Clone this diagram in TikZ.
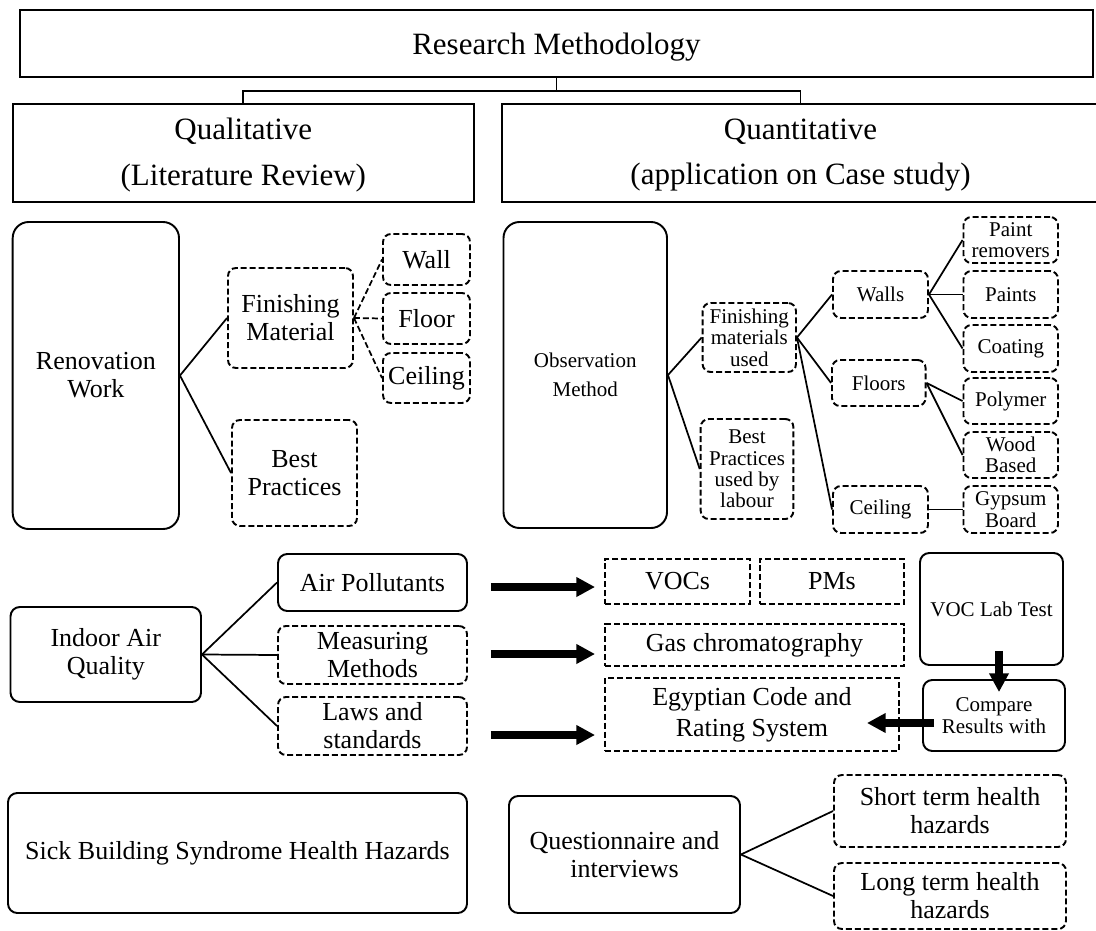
\documentclass[tikz,border=0pt]{standalone}
\usepackage{fontspec}
\setmainfont{Liberation Serif}
\usetikzlibrary{arrows.meta,calc}
\newcommand\fL{\fontsize{23.25}{34}\selectfont}
\newcommand\fM{\fontsize{19.5}{21}\selectfont}
\newcommand\fS{\fontsize{15.75}{16.1}\selectfont}
\newcommand\bx[7]{\node[#1, minimum width={(#5-#3)*0.75pt}, minimum height={(#6-#4)*0.75pt}] (#2) at ({(#3+#5)/2},{(#4+#6)/2}) {#7};}
\tikzset{
 base/.style={inner sep=0pt, align=center, line width=1.45pt, font=\fM},
 sq/.style={base, draw},
 rbig/.style={base, draw, rounded corners=12pt},
 rsm/.style={base, draw, rounded corners=7pt},
 dr/.style={base, draw, dash pattern=on 4.5pt off 2.2pt, rounded corners=6pt},
 ds/.style={base, draw, dash pattern=on 4.5pt off 2.2pt},
 conn/.style={line width=1.3pt},
 dconn/.style={line width=1.3pt, dash pattern=on 4.5pt off 2.2pt},
 bigarrow/.style={line width=5.3pt, -{Triangle[length=14pt,width=14pt]}},
}
\begin{document}
\begin{tikzpicture}[x=0.75pt,y=-0.75pt]
\useasboundingbox[fill=white] (0,0) rectangle (1096,931);
% top level
\bx{sq,font=\fL}{top}{20}{10}{1093}{77}{\rule{0pt}{21pt}Research Methodology}
\bx{sq,font=\fL}{qual}{12.6}{104}{474}{202}{\rule{0pt}{19pt}Qualitative\\(Literature Review)}
\bx{sq,font=\fL}{quant}{502}{104}{1099}{202}{\rule{0pt}{19pt}Quantitative\\(application on Case study)}
\draw[conn] (top.south) -- ++(0,13) -| (qual.north);
\draw[conn] (top.south) ++(0,13) -| (quant.north);
% left block
\bx{rbig}{ren}{12.7}{222}{179}{529}{Renovation\\Work}
\bx{dr}{fm}{228}{268}{353}{368}{Finishing\\Material}
\bx{dr}{bp}{232}{420}{357}{526}{Best\\Practices}
\bx{dr}{wall}{383}{234}{470}{285}{Wall}
\bx{dr}{floor}{383}{293}{470}{344}{Floor}
\bx{dr}{ceil}{383}{353}{470}{403}{Ceiling}
\draw[conn] (ren.east) -- (fm.west);
\draw[conn] (ren.east) -- (bp.west);
\draw[dconn] (fm.east) -- (wall.west);
\draw[dconn] (fm.east) -- (floor.west);
\draw[dconn] (fm.east) -- (ceil.west);
% right block
\bx{rbig,font=\fS}{obs}{503.5}{222}{667}{528}{Observation\\[5.6pt]Method}
\bx{dr,font=\fS}{fmu}{702.6}{303}{796}{372}{Finishing\\materials\\used}
\bx{dr,font=\fS}{bpl}{700.7}{419}{793.4}{519}{Best\\Practices\\used by\\labour}
\bx{dr,font=\fS}{walls}{833}{271}{928}{318}{Walls}
\bx{dr,font=\fS}{floors}{832}{360}{925.6}{406}{Floors}
\bx{dr,font=\fS}{ceiling}{833}{486}{928}{533}{Ceiling}
\bx{dr,font=\fS}{pr}{963.5}{217}{1058}{263}{Paint\\removers}
\bx{dr,font=\fS}{paints}{963.5}{271}{1058}{318}{Paints}
\bx{dr,font=\fS}{coat}{963.5}{325}{1058}{372}{Coating}
\bx{dr,font=\fS}{poly}{963.5}{378}{1058}{424}{Polymer}
\bx{dr,font=\fS}{wood}{963.5}{432}{1058}{478}{Wood\\Based}
\bx{dr,font=\fS}{gyp}{963.5}{486}{1058}{533}{Gypsum\\Board}
\draw[conn] (obs.east) -- (fmu.west);
\draw[conn] (obs.east) -- (bpl.west);
\draw[conn] (fmu.east) -- (walls.west);
\draw[conn] (fmu.east) -- (floors.west);
\draw[conn] (fmu.east) -- (ceiling.west);
\draw[conn] (walls.east) -- (pr.west);
\draw[conn] (walls.east) -- (paints.west);
\draw[conn] (walls.east) -- (coat.west);
\draw[conn] (floors.east) -- (poly.west);
\draw[conn] (floors.east) -- (wood.west);
\draw[conn] (ceiling.east) -- (gyp.west);
% middle block
\bx{rsm}{iaq}{10.5}{607}{201}{702}{Indoor Air\\Quality}
\bx{rsm}{ap}{278}{554}{467}{611}{Air Pollutants}
\bx{dr}{mm}{278}{626}{467}{684}{Measuring\\Methods}
\bx{dr}{laws}{278}{697}{467}{755}{Laws and\\standards}
\bx{ds}{vocs}{605}{559}{750}{604}{VOCs}
\bx{ds}{pms}{760}{559}{904}{604}{PMs}
\bx{ds}{gas}{605}{624}{904}{666}{Gas chromatography}
\bx{ds}{egy}{605}{678}{899}{751}{Egyptian Code and\\[2.4pt]Rating System}
\bx{rsm,font=\fS}{vlab}{920}{553}{1063}{665}{VOC Lab Test}
\bx{rsm,font=\fS}{cmp}{923}{680}{1065}{751}{Compare\\Results with}
\draw[conn] (iaq.east) -- (ap.west);
\draw[conn] (iaq.east) -- (mm.west);
\draw[conn] (iaq.east) -- (laws.west);
\draw[bigarrow] ($(ap.east)+(23,4.5)$) -- ($(vocs.west)+(-9,5.5)$);
\draw[bigarrow] ($(mm.east)+(23,-1)$) -- ($(gas.west)+(-9,9)$);
\draw[bigarrow] ($(laws.east)+(23,9)$) -- ($(egy.west)+(-9,20.5)$);
\draw[bigarrow] ($(vlab.south)+(7.5,-15)$) -- ($(cmp.north)+(5,13)$);
\draw[bigarrow] ($(cmp.west)+(12,7.5)$) -- ($(egy.east)+(-33,8.5)$);
% bottom block
\bx{rsm}{sbs}{8}{793}{467}{913}{Sick Building Syndrome Health Hazards}
\bx{rsm}{q}{509}{796}{740}{913}{Questionnaire and\\interviews}
\bx{dr}{short}{834}{775}{1066}{847}{Short term health\\hazards}
\bx{dr}{long}{834}{863}{1066}{929}{Long term health\\hazards}
\draw[conn] (q.east) -- (short.west);
\draw[conn] (q.east) -- (long.west);
\end{tikzpicture}
\end{document}
